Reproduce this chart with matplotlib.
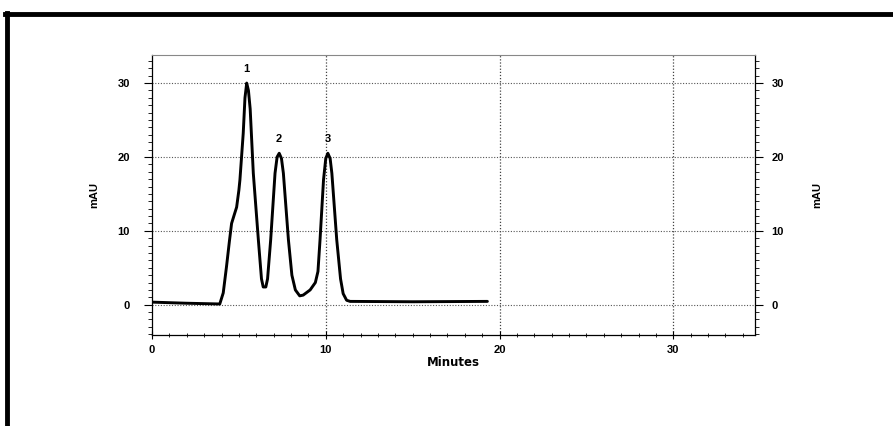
import numpy as np
import matplotlib
matplotlib.use('Agg')
import matplotlib.pyplot as plt
from matplotlib.lines import Line2D
from matplotlib.ticker import MultipleLocator

plt.rcParams['font.family'] = ['Liberation Sans', 'DejaVu Sans']

# 色谱曲线
time_min = [0.0, 2.0, 3.9, 4.1, 4.29, 4.45, 4.58, 4.75, 4.87, 5.0, 5.06, 5.25,
            5.35, 5.45, 5.55, 5.65, 5.83, 6.12, 6.3, 6.4, 6.55, 6.65, 6.83,
            7.08, 7.2, 7.32, 7.45, 7.56, 7.85, 8.05, 8.25, 8.5, 8.7, 9.1, 9.4,
            9.55, 9.67, 9.87, 10.0, 10.12, 10.25, 10.35, 10.63, 10.85, 11.0,
            11.2, 11.4, 15.0, 19.3]
signal_mau = [0.35, 0.2, 0.1, 1.6, 5.2, 8.5, 11.0, 12.3, 13.2, 15.5, 16.9, 23.2,
              28.0, 30.0, 29.0, 26.5, 17.8, 8.8, 3.5, 2.4, 2.4, 3.5, 8.8,
              17.8, 20.0, 20.5, 19.8, 17.8, 8.8, 4.0, 2.0, 1.2, 1.3, 2.0, 3.0,
              4.5, 8.8, 16.9, 19.8, 20.5, 19.8, 17.8, 8.8, 3.5, 1.5,
              0.6, 0.45, 0.4, 0.45]

# 峰标记
peak_labels = ['1', '2', '3']
peak_times = [5.45, 7.32, 10.12]
peak_heights = [30.0, 20.5, 20.5]

x_ticks = [0, 10, 20, 30]
y_ticks = [0, 10, 20, 30]

fig = plt.figure(figsize=(8.93, 4.26), dpi=100)
ax = fig.add_axes([0.1702, 0.2136, 0.6753, 0.6573])

ax.plot(time_min, signal_mau, color='black', linewidth=2.1,
        solid_joinstyle='round', solid_capstyle='round')

for lab, t, h in zip(peak_labels, peak_times, peak_heights):
    ax.text(t, h + 1.2, lab, ha='center', va='bottom', fontsize=8,
            fontweight='bold')

ax.set_xlim(0, 34.7)
ax.set_ylim(-4.1, 33.8)
ax.set_xticks(x_ticks)
ax.set_yticks(y_ticks)
ax.xaxis.set_minor_locator(MultipleLocator(1))
ax.yaxis.set_minor_locator(MultipleLocator(1))

# 右侧刻度和 mAU 标签用孪生轴
ax2 = ax.twinx()
ax2.set_ylim(ax.get_ylim())
ax2.set_yticks(y_ticks)
ax2.yaxis.set_minor_locator(MultipleLocator(1))
ax2.tick_params(axis='y', which='both', direction='out', labelsize=8)
ax2.tick_params(axis='y', which='major', length=6, width=0.8, pad=6)
ax2.tick_params(axis='y', which='minor', length=3, width=0.6)
for t in ax2.yaxis.get_major_ticks():
    t.label2.set_fontweight('bold')
ax2.set_ylabel('mAU', fontsize=8, fontweight='bold', labelpad=20)
for s in ax2.spines.values():
    s.set_visible(False)

# 网格线
for y in y_ticks:
    ax.axhline(y, color='#555555', linestyle=(0, (1, 1.5)), linewidth=0.8, zorder=0)
for x in x_ticks[1:]:
    ax.axvline(x, color='#444444', linestyle=(0, (1, 1.5)), linewidth=0.9, zorder=0)

ax.tick_params(axis='y', which='both', left=True, right=False, labelleft=True,
               labelright=False, direction='out', labelsize=8)
ax.tick_params(axis='y', which='major', length=6, width=0.8, pad=10)
ax.tick_params(axis='y', which='minor', length=3, width=0.6)
ax.tick_params(axis='x', which='both', direction='inout', labelsize=8, pad=4)
ax.tick_params(axis='x', which='major', length=6, width=0.8)
ax.tick_params(axis='x', which='minor', length=3, width=0.6)
for t in ax.yaxis.get_major_ticks():
    t.label1.set_fontweight('bold')
for t in ax.xaxis.get_major_ticks():
    t.label1.set_fontweight('bold')

for s in ['left', 'right', 'bottom']:
    ax.spines[s].set_linewidth(0.9)
ax.spines['top'].set_color('#888888')
ax.spines['top'].set_linewidth(0.8)

ax.set_xlabel('Minutes', fontsize=8.5, fontweight='bold', labelpad=1,
              family=['DejaVu Sans'])
ax.set_ylabel('mAU', fontsize=8, fontweight='bold', labelpad=13)

# 扫描件边框 (上、左)
fig.add_artist(Line2D([0.006, 1.0], [0.967, 0.967], color='black', linewidth=3.5,
                      transform=fig.transFigure))
fig.add_artist(Line2D([0.008, 0.008], [0.0, 0.969], color='black', linewidth=3.5,
                      transform=fig.transFigure))

fig.savefig('out.png', dpi=100)
